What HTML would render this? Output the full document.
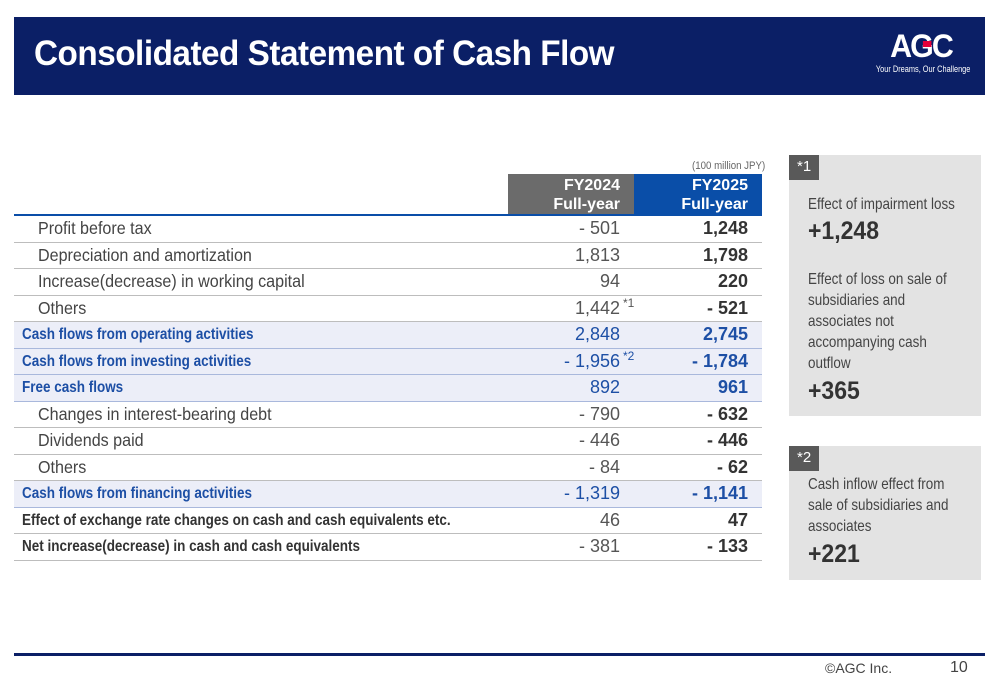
<!DOCTYPE html>
<html><head><meta charset="utf-8"><style>
*{margin:0;padding:0;box-sizing:border-box}
body{width:1000px;height:685px;background:#fff;position:relative;overflow:hidden;font-family:"Liberation Sans",sans-serif;color:#333}
.abs{position:absolute}
#hdr{left:14px;top:17px;width:971px;height:78px;background:#0b1f66}
#title{left:34px;top:34px;color:#fff;font:bold 35px "Liberation Sans",sans-serif;letter-spacing:-0.5px;transform:scaleX(0.95);transform-origin:left;white-space:nowrap}
.row{position:absolute;left:14px;width:748px;height:26.5px;border-bottom:1px solid #bdbdbd}
.row.hl{background:#eceef8;border-bottom:1px solid #a9b8dc}
.lbl{position:absolute;left:24px;top:2px;font-size:17.5px;color:#444;white-space:nowrap;transform:scaleX(0.92);transform-origin:left}
.hl .lbl,.b .lbl{left:8px;font-weight:bold;font-size:15.5px;top:4px;transform:scaleX(0.87)}
.hl .lbl{color:#1d4fa5}
.b .lbl{color:#333}
.v1{position:absolute;right:142px;top:2px;font-size:18px;color:#555;text-align:right}
.hl .v1{color:#1d4fa5}
.v2{position:absolute;right:14px;top:2px;font-size:18px;font-weight:bold;color:#333;text-align:right}
.hl .v2{color:#1d4fa5}
sup{font-size:12px;position:absolute;top:-2px;left:100%;margin-left:3px;vertical-align:top}
.box{position:absolute;left:789px;width:192px;background:#e3e3e3}
.tag{position:absolute;left:0;top:0;background:#595959;color:#fff;font-size:15px;padding:3px 8px;height:25px}
.bt{position:absolute;left:19px;font-size:16px;color:#444;line-height:21px;white-space:nowrap;transform:scaleX(0.84);transform-origin:left}
.big{position:absolute;left:19px;font-size:25px;font-weight:bold;color:#333;transform:scaleX(0.92);transform-origin:left}
</style></head><body>
<div class="abs" id="hdr"></div>
<div class="abs" id="title">Consolidated Statement of Cash Flow</div>
<div class="abs" style="left:866px;top:30px;width:110px;text-align:center;color:#fff">
<div style="font:bold 32px 'Liberation Sans',sans-serif;letter-spacing:-2px;line-height:32px;transform:scaleX(0.95)">A<span style="position:relative">G<span style="position:absolute;left:13px;top:13px;width:9px;height:6px;background:#e4003a"></span></span>C</div>
<div style="font-size:9px;white-space:nowrap;transform:scaleX(0.82);margin-top:2px">Your Dreams, Our Challenge</div></div>

<div class="abs" style="left:692px;top:160px;font-size:11px;color:#666;transform:scaleX(0.88);transform-origin:left;white-space:nowrap">(100 million JPY)</div>
<div class="abs" style="left:508px;top:174px;width:126px;height:41px;background:#6b6b6b;color:#fff;font-weight:bold;text-align:right;padding-right:14px;font-size:16px;line-height:19px;padding-top:2px">FY2024<br>Full-year</div>
<div class="abs" style="left:634px;top:174px;width:128px;height:41px;background:#0a4ea8;color:#fff;font-weight:bold;text-align:right;padding-right:14px;font-size:16px;line-height:19px;padding-top:2px">FY2025<br>Full-year</div>
<div class="abs" style="left:14px;top:214px;width:748px;height:2px;background:#0a4ea8"></div>

<div id="tbl"></div>

<div class="box" style="top:155px;height:261px">
<div class="tag">*1</div>
<div class="bt" style="top:39px">Effect of impairment loss</div>
<div class="big" style="top:62px">+1,248</div>
<div class="bt" style="top:114px">Effect of loss on sale of<br>subsidiaries and<br>associates not<br>accompanying cash<br>outflow</div>
<div class="big" style="top:222px">+365</div>
</div>
<div class="box" style="top:446px;height:134px">
<div class="tag">*2</div>
<div class="bt" style="top:28px">Cash inflow effect from<br>sale of subsidiaries and<br>associates</div>
<div class="big" style="top:94px">+221</div>
</div>

<div class="abs" style="left:14px;top:653px;width:971px;height:3px;background:#0b1f66"></div>
<div class="abs" style="left:825px;top:660px;font-size:14px;color:#444">©AGC Inc.</div>
<div class="abs" style="left:950px;top:659px;font-size:16px;color:#444">10</div>

<script>
const labels=["Profit before tax","Depreciation and amortization","Increase(decrease) in working capital","Others","Cash flows from operating activities","Cash flows from investing activities","Free cash flows","Changes in interest-bearing debt","Dividends paid","Others","Cash flows from financing activities","Effect of exchange rate changes on cash and cash equivalents etc.","Net increase(decrease) in cash and cash equivalents"];
const fy2024=["- 501","1,813","94","1,442","2,848","- 1,956","892","- 790","- 446","- 84","- 1,319","46","- 381"];
const fy2025=["1,248","1,798","220","- 521","2,745","- 1,784","961","- 632","- 446","- 62","- 1,141","47","- 133"];
const notes=["","","","*1","","*2","","","","","","",""];
const kinds=["","","","","hl","hl","hl","","","","hl","b","b"];
const tbl=document.getElementById('tbl');
labels.forEach((l,i)=>{
 const r=document.createElement('div');
 
 
 r.className='row '+kinds[i];
 r.style.top=(216+i*26.5)+'px';
 r.innerHTML='<div class="lbl">'+l+'</div><div class="v1"><span style="position:relative">'+fy2024[i]+(notes[i]?'<sup>'+notes[i]+'</sup>':'')+'</span></div><div class="v2">'+fy2025[i]+'</div>';
 tbl.appendChild(r);
});
</script>
</body></html>
